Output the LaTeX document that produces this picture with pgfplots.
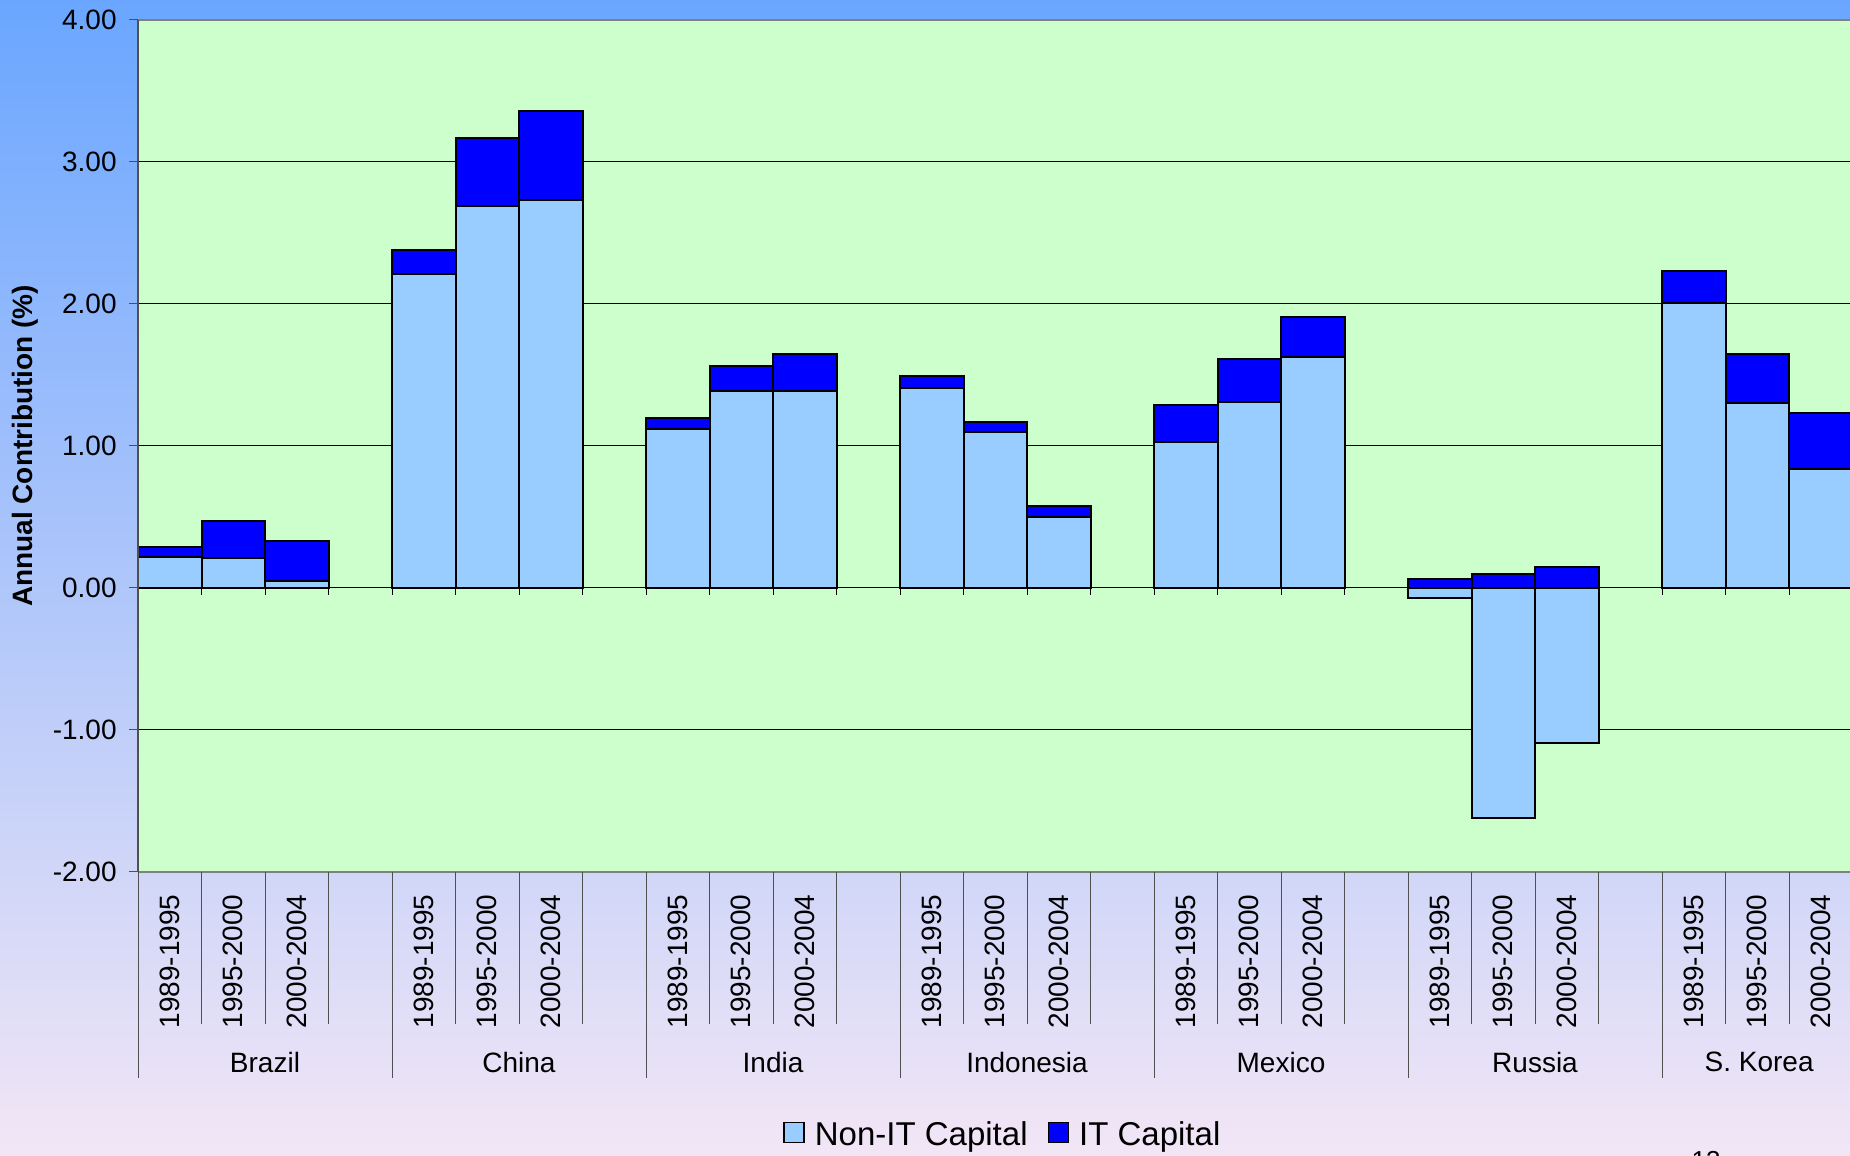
\documentclass[border=0pt]{standalone}
\usepackage{fontspec}
\setmainfont{Liberation Sans}
\usepackage{pgfplots}
\pgfplotsset{compat=1.18}
\usepackage{pgfplotstable}

\definecolor{bgtop}{RGB}{106,166,255}
\definecolor{bgmid}{RGB}{158,197,246}
\definecolor{bgbot}{RGB}{242,230,246}
\definecolor{plotbg}{RGB}{204,255,204}
\definecolor{nonit}{RGB}{153,204,255}
\definecolor{itcap}{RGB}{0,0,255}
\definecolor{frame}{RGB}{128,128,128}
\definecolor{sep}{RGB}{80,80,80}

% x = slot centre (4 slots per country: 3 periods + gap)
\pgfplotstableread{
x     nonit  it
0.5    0.22  0.07
1.5    0.21  0.26
2.5    0.05  0.28
4.5    2.21  0.17
5.5    2.69  0.48
6.5    2.73  0.63
8.5    1.12  0.08
9.5    1.39  0.17
10.5   1.39  0.26
12.5   1.41  0.08
13.5   1.10  0.07
14.5   0.50  0.08
16.5   1.03  0.26
17.5   1.31  0.30
18.5   1.63  0.28
20.5  -0.07  0.06
21.5  -1.62  0.10
22.5  -1.09  0.15
24.5   2.01  0.22
25.5   1.30  0.35
26.5   0.84  0.39
}\capdata

\begin{document}
\begin{tikzpicture}
\path[use as bounding box] (0,0) rectangle (925pt,577.5pt);
\clip (0,0) rectangle (925pt,577.5pt);
\shade[top color=bgtop, middle color=bgmid, bottom color=bgbot] (0,0) rectangle (925pt,577.5pt);
\begin{axis}[
    at={(69pt,141.5pt)}, anchor=south west,
    scale only axis, width=889pt, height=426pt,
    xmin=0, xmax=28, ymin=-2, ymax=4,
    clip=false,
    axis line style={draw=none},
    axis background/.style={fill=plotbg},
    ytick={-2,-1,0,1,2,3,4},
    ytick pos=left, ytick align=outside,
    major tick length=4.5pt,
    ytick style={draw=sep, line width=0.5pt},
    ymajorgrids, grid style={black, line width=0.5pt},
    yticklabel style={font=\fontsize{14}{16}\selectfont, inner sep=0pt, xshift=-6pt,
        /pgf/number format/fixed, /pgf/number format/fixed zerofill,
        /pgf/number format/precision=2, /pgf/number format/assume math mode=true},
    xtick={0.5,1.5,2.5,4.5,5.5,6.5,8.5,9.5,10.5,12.5,13.5,14.5,16.5,17.5,18.5,20.5,21.5,22.5,24.5,25.5,26.5},
    xticklabels={1989-1995,1995-2000,2000-2004,1989-1995,1995-2000,2000-2004,1989-1995,1995-2000,2000-2004,1989-1995,1995-2000,2000-2004,1989-1995,1995-2000,2000-2004,1989-1995,1995-2000,2000-2004,1989-1995,1995-2000,2000-2004},
    xtick pos=bottom, xtick align=inside,
    xtick style={draw=none},
    xticklabel style={font=\fontsize{14}{16}\selectfont, inner sep=0pt, yshift=-11pt, rotate=90, anchor=east},
    legend style={at={(0.487,-0.3087)}, anchor=center, draw=none, fill=none,
        legend columns=-1, font=\fontsize{16.5}{19}\selectfont,
        /tikz/every odd column/.append style={column sep=3pt},
        /tikz/every even column/.append style={column sep=8pt}},
    legend image code/.code={\draw[#1] (0pt,-3.8pt) rectangle (10pt,6.2pt);},
]
\addlegendimage{fill=nonit, draw=black, line width=0.75pt}
\addlegendentry{Non-IT Capital}
\addlegendimage{fill=itcap, draw=black, line width=0.75pt}
\addlegendentry{IT Capital}

% IT capital sits on top of the positive part of non-IT capital
\addplot[ybar, bar width=1, bar shift=0pt, fill=itcap, draw=black, line width=1pt, forget plot]
    table[x=x, y expr={\thisrow{it}+max(\thisrow{nonit},0)}] {\capdata};
\addplot[ybar, bar width=1, bar shift=0pt, fill=nonit, draw=black, line width=1pt, forget plot]
    table[x=x, y=nonit] {\capdata};

% frame
\draw[frame, line width=1pt] (axis cs:0,4) -- (axis cs:28,4);
\draw[frame, line width=1pt] (axis cs:0,-2) -- (axis cs:28,-2);
\draw[sep, line width=0.6pt] (axis cs:0,-2) -- (axis cs:0,4);
\pgfplotsinvokeforeach{1,...,28}{\draw[black, line width=0.5pt] (axis cs:#1,0) -- ([yshift=-3.5pt]axis cs:#1,0);}

% category separators
\pgfplotsinvokeforeach{0,...,28}{\draw[sep, line width=0.5pt] (axis cs:#1,-2) -- ([yshift=-76pt]axis cs:#1,-2);}
\pgfplotsinvokeforeach{0,4,...,28}{\draw[sep, line width=0.5pt] (axis cs:#1,-2) -- ([yshift=-103pt]axis cs:#1,-2);}

\tikzset{country/.style={font=\fontsize{14}{16}\selectfont, inner sep=0pt}}
\node[country] at ([yshift=-95pt]axis cs:2,-2) {Brazil};
\node[country] at ([yshift=-95pt]axis cs:6,-2) {China};
\node[country] at ([yshift=-95pt]axis cs:10,-2) {India};
\node[country] at ([yshift=-95pt]axis cs:14,-2) {Indonesia};
\node[country] at ([yshift=-95pt]axis cs:18,-2) {Mexico};
\node[country] at ([yshift=-95pt]axis cs:22,-2) {Russia};
\node[country] at ([yshift=-95pt]axis cs:25.53,-2) {S. Korea};
\end{axis}
\node[rotate=90, font=\fontsize{14}{16}\selectfont\bfseries, inner sep=0pt] at (12.5pt,354.5pt) {Annual Contribution (\%)};
\node[anchor=north, font=\fontsize{13}{15}\selectfont, inner sep=0pt] at (853pt,2pt) {13};
\end{tikzpicture}
\end{document}
